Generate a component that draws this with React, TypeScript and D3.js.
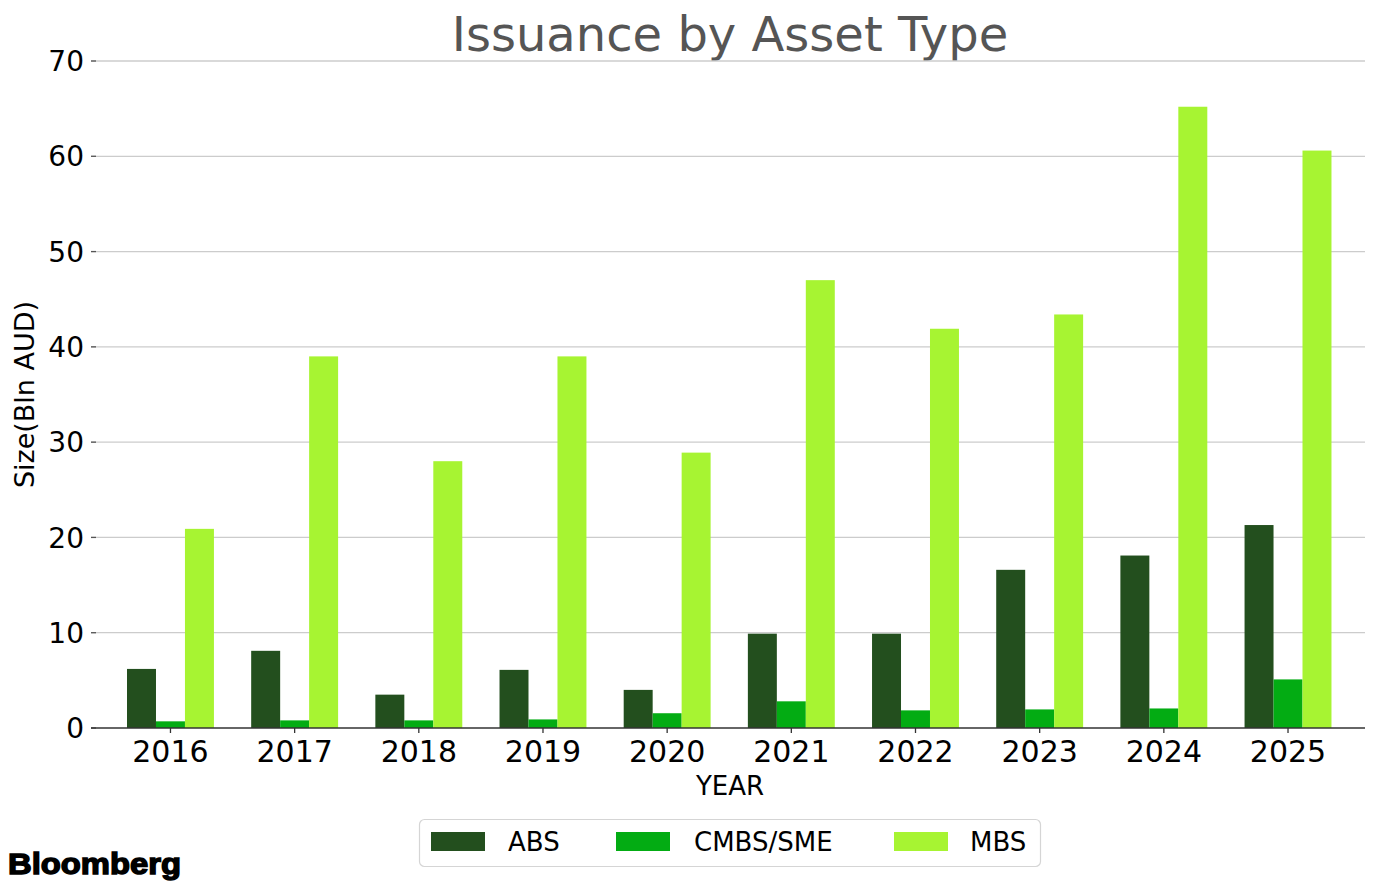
import * as d3 from "d3";

const YEARS = ["2016", "2017", "2018", "2019", "2020", "2021", "2022", "2023", "2024", "2025"];
const ABS = [6.2, 8.1, 3.5, 6.1, 4.0, 9.9, 9.9, 16.6, 18.1, 21.3];
const CMBS_SME = [0.7, 0.8, 0.8, 0.9, 1.55, 2.8, 1.85, 1.95, 2.05, 5.1];
const MBS = [20.9, 39.0, 28.0, 39.0, 28.9, 47.0, 41.9, 43.4, 65.2, 60.6];
const Y_TICKS = [0, 10, 20, 30, 40, 50, 60, 70];

const SERIES = [
  { name: "ABS", values: ABS, color: "#234F1E" },
  { name: "CMBS/SME", values: CMBS_SME, color: "#03AC13" },
  { name: "MBS", values: MBS, color: "#A7F432" },
];

const W = 1384;
const H = 889;
const FONT = "DejaVu Sans, sans-serif";
const plot = { left: 91, right: 1365, top: 61, bottom: 728 };

export default function App() {
  const x = d3.scaleLinear().domain([-0.64, 9.62]).range([plot.left, plot.right]);
  const y = d3.scaleLinear().domain([0, 70]).range([plot.bottom, plot.top]);
  const step = x(1) - x(0);
  const groupW = step * 0.7;
  const barW = groupW / SERIES.length;

  // legend layout
  const legend = [
    { patch: 431, text: 508 },
    { patch: 616, text: 694 },
    { patch: 894, text: 970 },
  ];

  return (
    <div style={{ position: "fixed", left: 0, top: 0 }}>
      <svg width={W} height={H} style={{ display: "block", background: "#fff" }}>
        <text x={730} y={51} textAnchor="middle" fontFamily={FONT} fontSize={48} fill="#555">
          Issuance by Asset Type
        </text>

        {/* grid + y axis */}
        {Y_TICKS.map((t) => (
          <g key={t}>
            {t > 0 && (
              <line x1={plot.left} x2={plot.right} y1={y(t)} y2={y(t)} stroke="#cccccc" strokeWidth={1.3} />
            )}
            <line x1={plot.left} x2={plot.left + 5} y1={y(t)} y2={y(t)} stroke="#555" strokeWidth={1.3} />
            <text x={84} y={y(t)} dy="0.36em" textAnchor="end" fontFamily={FONT} fontSize={28} fill="#000">
              {t}
            </text>
          </g>
        ))}

        {/* bars */}
        {SERIES.map((s, si) => (
          <g key={s.name}>
            {s.values.map((v, i) => (
              <rect
                key={i}
                x={x(i) - groupW / 2 + si * barW}
                y={y(v)}
                width={barW}
                height={y(0) - y(v)}
                fill={s.color}
              />
            ))}
          </g>
        ))}

        {/* x axis */}
        <line x1={plot.left} x2={plot.right} y1={plot.bottom} y2={plot.bottom} stroke="#333" strokeWidth={1.5} />
        {YEARS.map((yr, i) => (
          <g key={yr}>
            <line x1={x(i)} x2={x(i)} y1={plot.bottom} y2={plot.bottom + 5} stroke="#333" strokeWidth={1.3} />
            <text x={x(i)} y={762} textAnchor="middle" fontFamily={FONT} fontSize={30} fill="#000">
              {yr}
            </text>
          </g>
        ))}
        <text x={730} y={795} textAnchor="middle" fontFamily={FONT} fontSize={26} fill="#000">
          YEAR
        </text>
        <text
          transform={`translate(34,${(plot.top + plot.bottom) / 2}) rotate(-90)`}
          textAnchor="middle"
          fontFamily={FONT}
          fontSize={27}
          fill="#000"
        >
          Size(Bln AUD)
        </text>

        {/* legend */}
        <rect x={419.5} y={819.5} width={621} height={47} rx={5} fill="#fff" stroke="#d5d5d5" strokeWidth={1.2} />
        {SERIES.map((s, si) => (
          <g key={s.name}>
            <rect x={legend[si].patch} y={832} width={54} height={19} fill={s.color} />
            <text x={legend[si].text} y={851} fontFamily={FONT} fontSize={26} fill="#000">
              {s.name}
            </text>
          </g>
        ))}

        {/* source logo */}
        <text
          x={8}
          y={874}
          fontFamily="Liberation Sans, Arial, sans-serif"
          fontWeight={700}
          fontSize={29}
          textLength={173}
          lengthAdjust="spacingAndGlyphs"
          fill="#000"
          stroke="#000"
          strokeWidth={1.4}
        >
          Bloomberg
        </text>
      </svg>
    </div>
  );
}
